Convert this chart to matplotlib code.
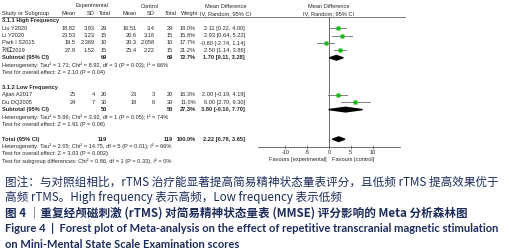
import matplotlib
matplotlib.use("Agg")
import matplotlib.pyplot as plt
from matplotlib.patches import Polygon

# ---------------- data ----------------
studies_high = ["Liu Y2020", "Li Y2020", "Park I S2015", "孙红2019"]
exp_mean_high = ["18.82", "23.53", "19.5", "27.9"]
exp_sd_high = ["3.93", "3.23", "2.369", "1.52"]
exp_n_high = [29, 15, 10, 15]
ctl_mean_high = ["16.51", "20.6", "20.3", "25.4"]
ctl_sd_high = ["3.4", "3.16", "2.058", "2.22"]
ctl_n_high = [29, 15, 10, 15]
weight_high = [18.0, 15.8, 17.7, 21.2]
md_high = [2.11, 2.93, -0.80, 2.50]
lo_high = [0.22, 0.64, -2.74, 1.14]
hi_high = [4.00, 5.22, 1.14, 3.86]
sub_high = (1.70, 0.11, 3.28)
sub_high_weight = 72.7

studies_low = ["Ajian A2017", "Du DQ2005"]
exp_mean_low = ["25", "24"]
exp_sd_low = ["4", "7"]
exp_n_low = [20, 30]
ctl_mean_low = ["23", "18"]
ctl_sd_low = ["3", "6"]
ctl_n_low = [20, 30]
weight_low = [16.3, 11.0]
md_low = [2.00, 6.00]
lo_low = [-0.19, 2.70]
hi_low = [4.19, 9.30]
sub_low = (3.80, -0.10, 7.70)
sub_low_weight = 27.3

total_md = (2.22, 0.78, 3.65)
xticks = [-10, -5, 0, 5, 10]

caption_lines = [
    "图注：与对照组相比，rTMS 治疗能显著提高简易精神状态量表评分，且低频 rTMS 提高效果优于",
    "高频 rTMS。High frequency 表示高频，Low frequency 表示低频",
    "图 4 ｜重复经颅磁刺激 (rTMS) 对简易精神状态量表 (MMSE) 评分影响的 Meta 分析森林图",
    "Figure 4  |  Forest plot of Meta-analysis on the effect of repetitive transcranial magnetic stimulation",
    "on Mini-Mental State Scale Examination scores",
]

# ---------------- layout ----------------
W, H = 509, 252
fig = plt.figure(figsize=(W / 100, H / 100), dpi=100)
ax = fig.add_axes([0, 0, 1, 1])
ax.set_xlim(0, W)
ax.set_ylim(H, 0)
ax.axis("off")

FT = ["Liberation Sans", "Noto Sans CJK SC"]
FS = 4.1
TC = "#262626"


def ry(i):
    return 6 + 7.4 * i


def t(x, i, s, ha="left", bold=False, y=None):
    ax.text(x, ry(i) if y is None else y, s, ha=ha, va="center", fontsize=FS,
            family=FT, color=TC, fontweight="bold" if bold else "normal")


# column right edges
cx = dict(em=76, esd=95, en=107, cm=137, csd=155, cn=173, w=196, ci=245)

# headers
t(92, 0, "Experimental", ha="center")
t(150, 0, "Control", ha="center")
t(226, 0, "Mean Difference", ha="center")
t(329, 0, "Mean Difference", ha="center")
t(2, 1, "Study or Subgroup")
t(76, 1, "Mean", ha="right")
t(95, 1, "SD", ha="right")
t(111, 1, "Total", ha="right")
t(137, 1, "Mean", ha="right")
t(155, 1, "SD", ha="right")
t(177, 1, "Total", ha="right")
t(198, 1, "Weight", ha="right")
t(226, 1, "IV, Random, 95% CI", ha="center")
t(329, 1, "IV, Random, 95% CI", ha="center")
ax.plot([2, 405], [17, 17], color="#666666", lw=0.6)


def ci_str(m, l, h):
    return f"{m:.2f} [{l:.2f}, {h:.2f}]"


def study_rows(start, names, em, esd, en, cm, csd, cn, w, md, lo, hi):
    for k in range(len(names)):
        i = start + k
        t(2, i, names[k])
        t(cx["em"], i, em[k], ha="right")
        t(cx["esd"], i, esd[k], ha="right")
        t(cx["en"], i, str(en[k]), ha="right")
        t(cx["cm"], i, cm[k], ha="right")
        t(cx["csd"], i, csd[k], ha="right")
        t(cx["cn"], i, str(cn[k]), ha="right")
        t(cx["w"], i, f"{w[k]:.1f}%", ha="right")
        t(cx["ci"], i, ci_str(md[k], lo[k], hi[k]), ha="right")


def subtotal_row(i, label, en, cn, w, est):
    t(2, i, label, bold=True)
    t(cx["en"], i, str(en), ha="right", bold=True)
    t(cx["cn"], i, str(cn), ha="right", bold=True)
    t(cx["w"], i, f"{w:.1f}%", ha="right", bold=True)
    t(cx["ci"], i, ci_str(*est), ha="right", bold=True)


t(2, 2, "3.1.1 High Frequency", bold=True)
study_rows(3, studies_high, exp_mean_high, exp_sd_high, exp_n_high, ctl_mean_high,
           ctl_sd_high, ctl_n_high, weight_high, md_high, lo_high, hi_high)
subtotal_row(7, "Subtotal (95% CI)", sum(exp_n_high), sum(ctl_n_high), sub_high_weight, sub_high)
t(2, 8, "Heterogeneity: Tau² = 1.71; Chi² = 8.92, df = 3 (P = 0.03); I² = 66%")
t(2, 9, "Test for overall effect: Z = 2.10 (P = 0.04)")

t(2, 11, "3.1.2 Low Frequency", bold=True)
study_rows(12, studies_low, exp_mean_low, exp_sd_low, exp_n_low, ctl_mean_low,
           ctl_sd_low, ctl_n_low, weight_low, md_low, lo_low, hi_low)
subtotal_row(14, "Subtotal (95% CI)", sum(exp_n_low), sum(ctl_n_low), sub_low_weight, sub_low)
t(2, 15, "Heterogeneity: Tau² = 5.96; Chi² = 3.92, df = 1 (P = 0.05); I² = 74%")
t(2, 16, "Test for overall effect: Z = 1.91 (P = 0.06)")

subtotal_row(18, "Total (95% CI)", sum(exp_n_high) + sum(exp_n_low),
             sum(ctl_n_high) + sum(ctl_n_low), 100.0, total_md)
t(2, 19, "Heterogeneity: Tau² = 2.05; Chi² = 14.75, df = 5 (P = 0.01); I² = 66%")
t(2, 20, "Test for overall effect: Z = 3.03 (P = 0.002)")
t(2, 21, "Test for subgroup differences: Chi² = 0.86, df = 1 (P = 0.33), I² = 0%")

# ---------------- forest axes ----------------
y_axis = 147
x0, x1 = 258, 400
fax = fig.add_axes([x0 / W, 1 - y_axis / H, (x1 - x0) / W, (y_axis - 17) / H])
fax.set_xlim(-16.3, 16.3)
fax.set_ylim(y_axis, 17)
fax.patch.set_alpha(0)
for s in ["top", "right", "left"]:
    fax.spines[s].set_visible(False)
fax.spines["bottom"].set_color("#555555")
fax.spines["bottom"].set_linewidth(0.6)
fax.set_yticks([])
fax.set_xticks(xticks)
fax.set_xticklabels([str(v) for v in xticks])
fax.tick_params(axis="x", direction="inout", length=3, width=0.5, color="#555555",
                labelsize=FS, labelcolor=TC, pad=0.8)
for lab in fax.get_xticklabels():
    lab.set_family("Liberation Sans")
fax.axvline(0, color="#555555", lw=0.6)


def draw_studies(start, md, lo, hi, w):
    for k in range(len(md)):
        y = ry(start + k)
        fax.plot([lo[k], hi[k]], [y, y], color="#808080", lw=0.7, zorder=2)
        fax.plot(md[k], y, marker="s", ms=1.3 + w[k] * 0.08, color="#14b814",
                 mec="none", zorder=3)


def diamond(i, m, l, h):
    y = ry(i)
    fax.add_patch(Polygon([[l, y], [m, y - 2.3], [h, y], [m, y + 2.3]],
                          closed=True, color="black", zorder=3))


draw_studies(3, md_high, lo_high, hi_high, weight_high)
diamond(7, *sub_high)
draw_studies(12, md_low, lo_low, hi_low, weight_low)
diamond(14, *sub_low)
diamond(18, *total_md)

ax.text(327, 159, "Favours [experimental]", ha="right", va="center", fontsize=FS,
        family=FT, color=TC)
ax.text(332, 159, "Favours [control]", ha="left", va="center", fontsize=FS,
        family=FT, color=TC)

# ---------------- caption ----------------
CC = "#1d2b5b"
CJK = ["Noto Sans CJK SC", "DejaVu Sans"]
EN = ["Lato", "Noto Sans CJK SC", "DejaVu Sans"]
renderer = fig.canvas.get_renderer()


def fit_text(y, s, family, weight, target_right, fs0):
    tx = ax.text(5, y, s, ha="left", va="center", fontsize=fs0, family=family,
                 color=CC, fontweight=weight)
    bb = tx.get_window_extent(renderer=renderer)
    tx.set_fontsize(fs0 * (target_right - 5) / bb.width)
    return tx.get_fontsize()


cfs = fit_text(182, caption_lines[0], CJK, "normal", 496, 8.3)
ax.text(5, 197, caption_lines[1], ha="left", va="center", fontsize=cfs, family=CJK, color=CC)
ax.text(5, 213, caption_lines[2], ha="left", va="center", fontsize=cfs, family=CJK,
        color=CC, fontweight="bold")
efs = fit_text(228, caption_lines[3], EN, "bold", 497, 8.0)
ax.text(5, 244, caption_lines[4], ha="left", va="center", fontsize=efs, family=EN,
        color=CC, fontweight="bold")

fig.savefig("out.png", dpi=100)
